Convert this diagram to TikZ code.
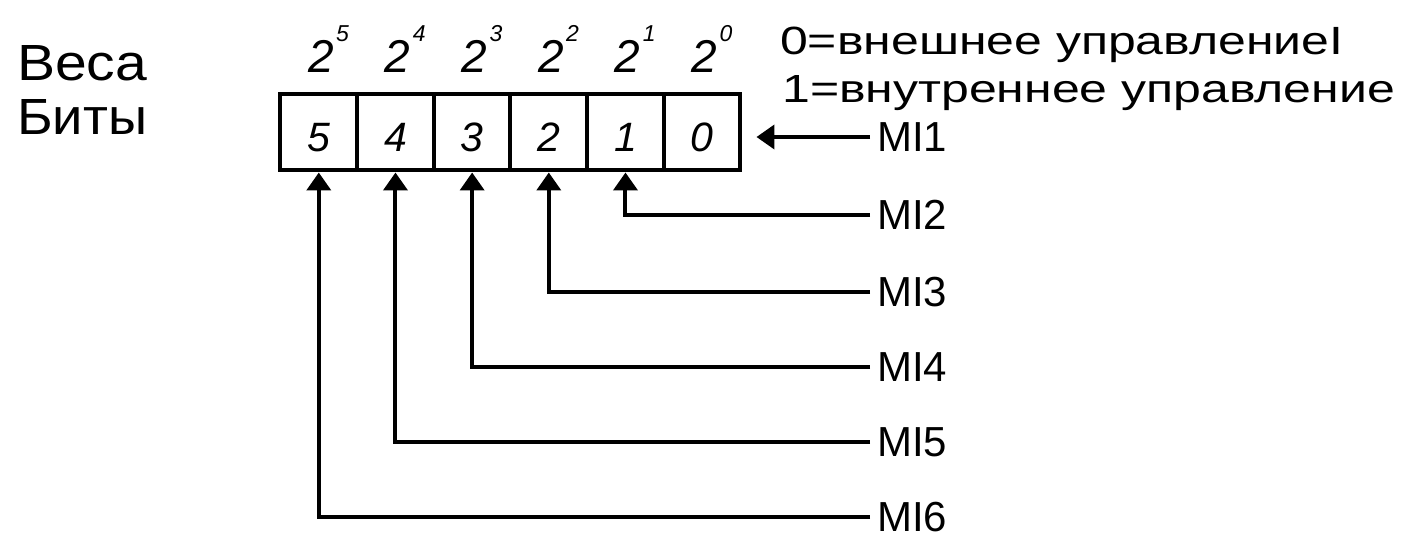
\documentclass[tikz,border=0pt]{standalone}
\usepackage{fontspec}
\setmainfont{Liberation Sans}
\usepackage{graphicx}
\usetikzlibrary{arrows.meta}
\begin{document}
\begin{tikzpicture}[x=1pt,y=-1pt,
  cell/.style={draw, line width=4pt, minimum width=76.67pt, minimum height=76pt, inner sep=0pt,
    text height=39pt, text depth=0pt, font=\fontsize{41}{48}\selectfont\itshape},
  basetwo/.style={inner sep=0pt, anchor=base, font=\fontsize{46}{54}\selectfont\itshape},
  expo/.style={inner sep=0pt, anchor=base west, font=\fontsize{23}{27}\selectfont\itshape},
  lbl/.style={anchor=west, inner xsep=7pt, inner ysep=0pt, font=\fontsize{42}{50}\selectfont},
  txt/.style={anchor=base west, inner sep=0pt},
  arr/.style={line width=4pt, -{Triangle[length=18pt,width=24pt]}},
]
\fill[white] (0,0) rectangle (1401,540);
\useasboundingbox (0,0) rectangle (1401,540);

% left titles
\node[txt] (vesa) at (17,81) {\fontsize{49}{56}\selectfont\resizebox{130pt}{35pt}{Веса}};
\node[txt] (bity) at (17,135) {\fontsize{49}{56}\selectfont\resizebox{130pt}{35pt}{Биты}};

% register cells, weights
\foreach \k in {0,...,5} {
  \node[cell] (b\k) at ({318.8+76.67*(5-\k)},132.5) {\k};
  \node[basetwo] (w\k) at ({321+76.67*(5-\k)},73) {2};
  \node[expo] (e\k) at ([shift={(2pt,31pt)}]w\k.base east) {\k};
}

% legend text
\node[txt] (t0) at (780,55) {\fontsize{38}{44}\selectfont\resizebox{563pt}{27.5pt}{0=внешнее управлениеI}};
\node[txt] (t1) at (782,103) {\fontsize{38}{44}\selectfont\resizebox{613pt}{27pt}{1=внутреннее управление}};

% MI labels
\node[lbl] (mi1) at (870,137) {MI1};
\node[lbl] (mi2) at (870,215) {MI2};
\node[lbl] (mi3) at (870,292) {MI3};
\node[lbl] (mi4) at (870,367) {MI4};
\node[lbl] (mi5) at (870,442) {MI5};
\node[lbl] (mi6) at (870,517) {MI6};

% connectors
\draw[arr, shorten >=14pt] (mi1.west) -- (mi1.west -| b0.east);
\draw[arr] (mi2.west) -| (b1.south);
\draw[arr] (mi3.west) -| (b2.south);
\draw[arr] (mi4.west) -| (b3.south);
\draw[arr] (mi5.west) -| (b4.south);
\draw[arr] (mi6.west) -| (b5.south);
\end{tikzpicture}
\end{document}
